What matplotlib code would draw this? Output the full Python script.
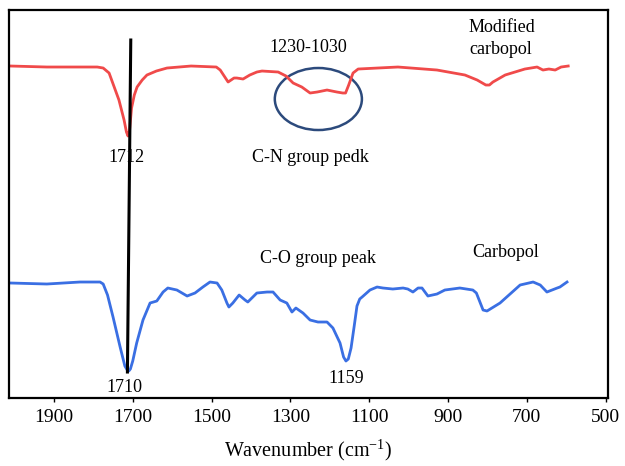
import matplotlib
matplotlib.use("Agg")
import matplotlib.pyplot as plt
from matplotlib.patches import Ellipse

plt.rcParams['font.family'] = ['Liberation Serif', 'DejaVu Serif']
plt.rcParams['mathtext.fontset'] = 'custom'
plt.rcParams['mathtext.rm'] = 'Liberation Serif'

# Modified carbopol (upper trace), arbitrary offset units
mod_wn = [2010, 1918, 1790, 1775, 1760, 1735, 1722, 1716, 1712, 1708, 1703, 1696,
          1689, 1676, 1664, 1640, 1613, 1552,
          1488, 1478, 1468, 1458, 1443, 1436, 1420, 1403, 1385, 1372, 1331, 1311, 1293,
          1271, 1250, 1232, 1207, 1182, 1167, 1160, 1152, 1141, 1128, 1078, 1027, 928,
          857, 826, 804, 795, 786, 755, 705, 674, 659, 644, 628, 613, 595]
mod_val = [332, 331, 331, 330, 325, 298, 278, 266, 262, 268, 290, 303,
           311, 318, 323, 327, 330, 332,
           331, 328, 322, 316, 320, 320, 319, 323, 326, 327, 326, 322, 315,
           311, 305, 306, 308, 306, 305, 305, 313, 325, 329, 330, 331, 328,
           323, 318, 313, 313, 316, 323, 329, 331, 328, 329, 328, 331, 332]

# Carbopol (lower trace)
carb_wn = [2010, 1918, 1834, 1783, 1775, 1764, 1750, 1732, 1720, 1714, 1710, 1706, 1700,
           1690, 1674, 1656, 1639, 1623, 1611, 1588, 1562, 1542, 1522, 1504, 1486, 1474,
           1461, 1456, 1446, 1430, 1415, 1408, 1385, 1359, 1344, 1326, 1309, 1296, 1286,
           1268, 1250, 1230, 1207, 1192, 1174, 1165, 1159, 1153, 1146, 1138, 1131, 1124,
           1118, 1098, 1080, 1065, 1040, 1014, 1002, 989, 976, 966, 951, 928, 908,
           870, 837, 828, 820, 811, 801, 768, 717, 684, 666, 649, 636, 623, 616, 598]
carb_val = [115, 114, 116, 116, 114, 103, 81, 51, 32, 28, 27, 29, 37,
            55, 78, 95, 97, 106, 110, 108, 102, 105, 111, 116, 115, 108,
            95, 91, 95, 103, 98, 96, 105, 106, 106, 98, 95, 86, 90,
            85, 78, 76, 76, 70, 55, 41, 37, 39, 50, 72, 92, 99,
            101, 108, 111, 110, 109, 110, 109, 106, 110, 110, 102, 104, 108,
            110, 108, 105, 97, 88, 87, 95, 113, 116, 113, 106, 108, 110, 111, 116]

xticks = [1900, 1700, 1500, 1300, 1100, 900, 700, 500]

fig = plt.figure(figsize=(6.25, 4.66), dpi=100)
ax = fig.add_axes([0.0144, 0.1459, 0.9584, 0.8326])

ax.plot(mod_wn, mod_val, color='#f04a4a', lw=2.0, solid_joinstyle='round')
ax.plot(carb_wn, carb_val, color='#3a6fe3', lw=2.0, solid_joinstyle='round')

# marker line through the carbonyl peaks
ax.plot([1705, 1713.5], [358, 26], color='black', lw=2.2)

ax.add_patch(Ellipse((1229, 299), 221, 62, fill=False, edgecolor='#2c4a7c', lw=1.8))

tfs = 13
ax.text(1255, 351, '1230-1030', ha='center', va='center', fontsize=tfs)
ax.text(1250, 241, 'C-N group pedk', ha='center', va='center', fontsize=tfs)
ax.text(1715, 241, '1712', ha='center', va='center', fontsize=tfs)
ax.text(847, 371, 'Modified', ha='left', va='center', fontsize=tfs)
ax.text(847, 349, 'carbopol', ha='left', va='center', fontsize=tfs)
ax.text(1230, 140, 'C-O group peak', ha='center', va='center', fontsize=tfs)
ax.text(755, 146, 'Carbopol', ha='center', va='center', fontsize=tfs)
ax.text(1720, 11, '1710', ha='center', va='center', fontsize=tfs)
ax.text(1159, 20, '1159', ha='center', va='center', fontsize=tfs)

ax.set_xlim(2014, 494)
ax.set_ylim(0, 388)
ax.set_xticks(xticks)
ax.set_yticks([])
ax.tick_params(axis='x', labelsize=14, length=3, width=1, pad=5)
for s in ax.spines.values():
    s.set_linewidth(1.6)

ax.set_xlabel('Wavenumber (cm$^{-1}$)', fontsize=14.5, labelpad=8)

fig.savefig('out.png', dpi=100)
